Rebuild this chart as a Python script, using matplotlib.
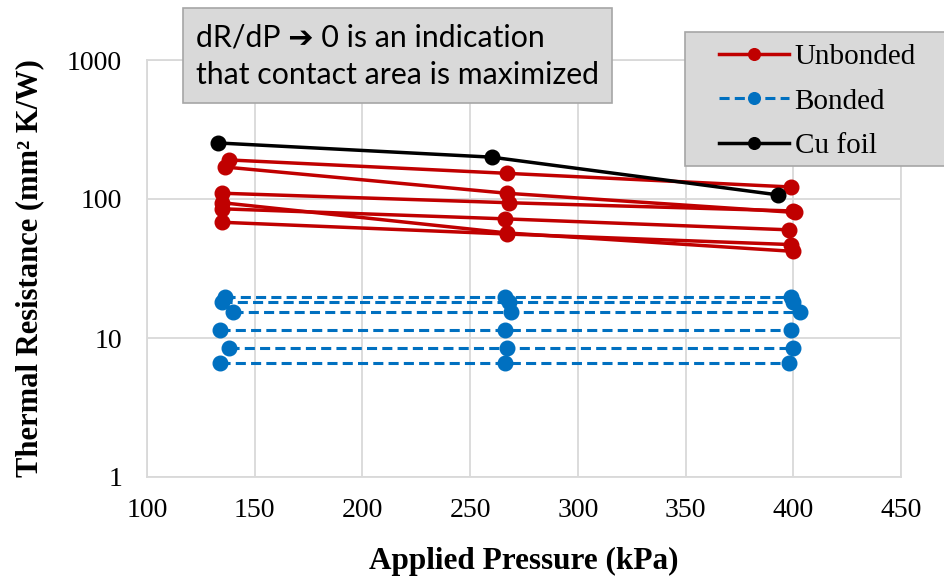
import matplotlib
matplotlib.use('Agg')
import matplotlib.pyplot as plt
from matplotlib.patches import Rectangle
import numpy as np

# Unbonded samples (kPa, mm^2 K/W)
unb_p = [[138, 267, 399],
         [136, 267, 401],
         [135, 268, 400],
         [135, 267, 400],
         [135, 266, 398],
         [135, 267, 399]]
unb_r = [[191, 153, 122],
         [170, 110, 80],
         [110, 94, 82],
         [94, 57, 42],
         [85, 72, 60],
         [68, 56, 47]]

# Bonded samples
bon_p = [[136, 266, 399],
         [135, 268, 400],
         [140, 269, 403],
         [134, 266, 399],
         [138, 267, 400],
         [134, 266, 398]]
bon_r = [[19.7, 19.7, 19.7],
         [18.2, 18.2, 18.2],
         [15.5, 15.5, 15.5],
         [11.4, 11.4, 11.4],
         [8.5, 8.5, 8.5],
         [6.6, 6.6, 6.6]]

# Cu foil
cu_p = [133, 260, 393]
cu_r = [253, 200, 107]

red = '#C00000'
blue = '#0070C0'
grid = '#d9d9d9'

plt.rcParams['font.family'] = ['Liberation Serif', 'DejaVu Serif']

fig = plt.figure(figsize=(9.45, 5.8), dpi=100)
ax = fig.add_axes([147/945, 1-477/580, (901-147)/945, (477-60)/580])

for i in range(len(unb_p)):
    ax.plot(unb_p[i], unb_r[i], color=red, lw=2.5, marker='o', ms=10.5,
            label='Unbonded' if i == 0 else None)
for i in range(len(bon_p)):
    ax.plot(bon_p[i], bon_r[i], color=blue, lw=2.2, ls=(0, (3.3, 1.7)), marker='o', ms=10.5,
            label='Bonded' if i == 0 else None)
ax.plot(cu_p, cu_r, color='black', lw=2.5, marker='o', ms=10.5, label='Cu foil')

ax.set_yscale('log')
ax.set_ylim(1, 1000)
ax.set_xlim(100, 450)
ax.set_xticks(np.arange(100, 451, 50))
ax.set_yticks([1, 10, 100, 1000])
ax.set_yticklabels(['1', '10', '100', '1000'])
ax.minorticks_off()
ax.tick_params(length=0, labelsize=20)
ax.tick_params(axis='y', pad=18)
ax.tick_params(axis='x', pad=15)
ax.grid(True, color=grid, lw=1.3)
ax.set_axisbelow(True)
for s in ax.spines.values():
    s.set_color(grid)
    s.set_linewidth(1.3)

ax.set_xlabel('Applied Pressure (kPa)', fontsize=22.5, fontweight='bold', labelpad=17)
ax.set_ylabel('Thermal Resistance (mm² K/W)', fontsize=22, fontweight='bold', labelpad=16)

# legend with a gray box that runs off the right edge
fig.patches.append(Rectangle((685/945, 1-166/580), 270/945, 134/580,
                             transform=fig.transFigure, facecolor=grid,
                             edgecolor='#a6a6a6', lw=1.2, zorder=4))
leg = fig.legend(loc='upper left', bbox_to_anchor=(710/945, 1-35/580), fontsize=21,
                 handlelength=2.4, labelspacing=0.62, borderpad=0.3, borderaxespad=0,
                 handletextpad=0.2, frameon=False, markerscale=0.8)
leg.set_zorder(6)

# annotation box
fig.patches.append(Rectangle((183/945, 1-103/580), (612-183)/945, 95/580,
                             transform=fig.transFigure, facecolor=grid,
                             edgecolor='#a6a6a6', lw=1.2, zorder=5))
fig.text(196/945, 1-38/580, 'dR/dP \u2794 0 is an indication', fontsize=21.8,
         family=['Lato', 'DejaVu Sans'], va='center', zorder=6)
fig.text(196/945, 1-75/580, 'that contact area is maximized', fontsize=21.8,
         family=['Lato', 'DejaVu Sans'], va='center', zorder=6)

fig.savefig('out.png', dpi=100)
